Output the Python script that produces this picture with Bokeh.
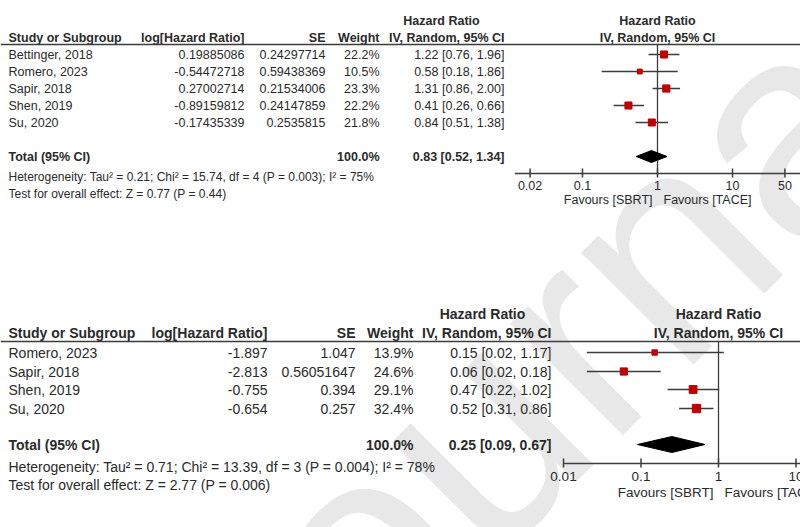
import math
from bokeh.plotting import figure
from bokeh.models import Range1d, LogScale
from bokeh.embed import file_html
from bokeh.resources import INLINE
from bokeh.core.properties import value

# ---------------- data: panel 1 ----------------
top_studies = ["Bettinger, 2018", "Romero, 2023", "Sapir, 2018", "Shen, 2019", "Su, 2020"]
top_loghr = ["0.19885086", "-0.54472718", "0.27002714", "-0.89159812", "-0.17435339"]
top_se = ["0.24297714", "0.59438369", "0.21534006", "0.24147859", "0.2535815"]
top_weight = [22.2, 10.5, 23.3, 22.2, 21.8]
top_hr = [1.22, 0.58, 1.31, 0.41, 0.84]
top_lo = [0.76, 0.18, 0.86, 0.26, 0.51]
top_hi = [1.96, 1.86, 2.00, 0.66, 1.38]
top_total = [0.83, 0.52, 1.34]
top_het = "Heterogeneity: Tau\u00b2 = 0.21; Chi\u00b2 = 15.74, df = 4 (P = 0.003); I\u00b2 = 75%"
top_test = "Test for overall effect: Z = 0.77 (P = 0.44)"
top_ticks = [0.02, 0.1, 1, 10, 50]
top_tick_labels = ["0.02", "0.1", "1", "10", "50"]

# ---------------- data: panel 2 ----------------
bot_studies = ["Romero, 2023", "Sapir, 2018", "Shen, 2019", "Su, 2020"]
bot_loghr = ["-1.897", "-2.813", "-0.755", "-0.654"]
bot_se = ["1.047", "0.56051647", "0.394", "0.257"]
bot_weight = [13.9, 24.6, 29.1, 32.4]
bot_hr = [0.15, 0.06, 0.47, 0.52]
bot_lo = [0.02, 0.02, 0.22, 0.31]
bot_hi = [1.17, 0.18, 1.02, 0.86]
bot_total = [0.25, 0.09, 0.67]
bot_het = "Heterogeneity: Tau\u00b2 = 0.71; Chi\u00b2 = 13.39, df = 3 (P = 0.004); I\u00b2 = 78%"
bot_test = "Test for overall effect: Z = 2.77 (P = 0.006)"
bot_ticks = [0.01, 0.1, 1, 10, 100]
bot_tick_labels = ["0.01", "0.1", "1", "10", "100"]

headers = ["Study or Subgroup", "log[Hazard Ratio]", "SE", "Weight", "Hazard Ratio", "IV, Random, 95% CI"]
favours = ["Favours [SBRT]", "Favours [TACE]"]
watermark = "Journal"

# ---------------- layout (page pixel coordinates) ----------------
W, H = 800, 527
X0, Y0 = 0, 0
FONT = value("Liberation Sans")
TXT = "#2a2a2a"
LINE = "#3c3c3c"
RED = "#c00000"

p = figure(width=W, height=H, output_backend="svg", toolbar_location=None,
           x_range=Range1d(X0, X0 + W), y_range=Range1d(Y0 + H, Y0),
           min_border=0, outline_line_color=None)
p.axis.visible = False
p.grid.visible = False
p.background_fill_color = "white"

# watermark
p.text(x=[540], y=[370], text=[watermark], angle=math.pi / 4,
       text_font=FONT, text_font_size="300px", text_color="#e8e8e8",
       text_align="center", text_baseline="middle")


def panel(name, L, studies, loghr, se, weight, hr, lo, hi, total, het, test, ticks, tick_labels):
    fs = f"{L['fs']}px"
    # log scale range mapped onto the frame
    rlo = 10 ** ((X0 - L['center']) / L['decade'])
    rhi = 10 ** ((X0 + W - L['center']) / L['decade'])
    p.extra_x_ranges[name] = Range1d(rlo, rhi)
    p.extra_x_scales[name] = LogScale()

    def txt(x, y, t, align, bold=False, size=fs, **kw):
        p.text(x=x, y=y, text=t, text_align=align, text_baseline="middle",
               text_font=FONT, text_font_size=size,
               text_font_style="bold" if bold else "normal", text_color=TXT, **kw)

    # headers
    txt([L['x_study']], [L['y_hdr']], [headers[0]], "left", True)
    txt([L['x_log']], [L['y_hdr']], [headers[1]], "right", True)
    txt([L['x_se']], [L['y_hdr']], [headers[2]], "right", True)
    txt([L['x_w']], [L['y_hdr']], [headers[3]], "right", True)
    txt([L['x_hrhdr']], [L['y_hr']], [headers[4]], "center", True)
    txt([L['x_ci']], [L['y_hdr']], [headers[5]], "right", True)
    txt([1], [L['y_hr']], [headers[4]], "center", True, x_range_name=name)
    txt([1], [L['y_hdr']], [headers[5]], "center", True, x_range_name=name)
    p.segment(x0=[X0], x1=[X0 + W], y0=[L['y_rule']], y1=[L['y_rule']],
              line_color=LINE, line_width=1.5)

    rows = L['rows']
    txt([L['x_study']] * len(rows), rows, studies, "left")
    txt([L['x_log']] * len(rows), rows, loghr, "right")
    txt([L['x_se']] * len(rows), rows, se, "right")
    txt([L['x_w']] * len(rows), rows, [f"{w:.1f}%" for w in weight], "right")
    txt([L['x_ci']] * len(rows), rows,
        [f"{a:.2f} [{b:.2f}, {c:.2f}]" for a, b, c in zip(hr, lo, hi)], "right")

    # total
    yt = L['y_total']
    txt([L['x_study']], [yt], ["Total (95% CI)"], "left", True)
    txt([L['x_w']], [yt], [f"{sum(weight):.1f}%"], "right", True)
    txt([L['x_ci']], [yt], [f"{total[0]:.2f} [{total[1]:.2f}, {total[2]:.2f}]"], "right", True)
    txt([L['x_study']], [L['y_het']], [het], "left", size=f"{L['fs_het']}px")
    txt([L['x_study']], [L['y_test']], [test], "left", size=f"{L['fs_het']}px")

    # forest: null line, axis, ticks
    p.segment(x0=[1], x1=[1], y0=[L['y_rule']], y1=[L['y_axis']],
              line_color=LINE, line_width=1.3, x_range_name=name)
    p.segment(x0=[L['axis_lo']], x1=[L['axis_hi']], y0=[L['y_axis']], y1=[L['y_axis']],
              line_color=LINE, line_width=1.5, x_range_name=name)
    p.segment(x0=ticks, x1=ticks, y0=[L['y_axis'] - 5] * len(ticks), y1=[L['y_axis'] + 4] * len(ticks),
              line_color=LINE, line_width=1.5, x_range_name=name)
    txt(ticks, [L['y_ticklab']] * len(ticks), tick_labels, "center", size=f"{L['fs_tick']}px",
        x_range_name=name)
    txt([1], [L['y_fav']], [favours[0]], "right", size=f"{L['fs_tick']}px", x_range_name=name, x_offset=-5)
    txt([1], [L['y_fav']], [favours[1]], "left", size=f"{L['fs_tick']}px", x_range_name=name, x_offset=6)

    # CIs and squares
    p.segment(x0=lo, x1=hi, y0=rows, y1=rows, line_color=LINE, line_width=1.4, x_range_name=name)
    p.scatter(x=hr, y=rows, marker="square", size=[L['k'] * math.sqrt(w) for w in weight],
              fill_color=RED, line_color=RED, x_range_name=name)
    # diamond
    h = L['diamond_h'] / 2
    p.patch(x=[total[1], total[0], total[2], total[0]], y=[yt, yt - h, yt, yt + h],
            fill_color="black", line_color="black", x_range_name=name)


top_L = dict(fs=12.5, fs_het=12, fs_tick=12.5, y_hr=20, y_hdr=37, y_rule=44, rows=[54, 71, 88, 105, 122],
             y_total=156, y_het=176, y_test=193, y_axis=173, y_ticklab=185, y_fav=199,
             x_study=8, x_log=244, x_se=325, x_w=379, x_ci=504, x_hrhdr=441,
             center=657, decade=75, axis_lo=0.0125, axis_hi=80, diamond_h=12, k=1.5)
bot_L = dict(fs=14, fs_het=14, fs_tick=13.5, y_hr=313, y_hdr=332, y_rule=341, rows=[352, 371, 389, 408],
             y_total=444, y_het=466, y_test=484, y_axis=463, y_ticklab=476, y_fav=492,
             x_study=8, x_log=267, x_se=355, x_w=413, x_ci=551, x_hrhdr=482,
             center=718, decade=77.5, axis_lo=0.01, axis_hi=100, diamond_h=16, k=1.45)

panel("top", top_L, top_studies, top_loghr, top_se, top_weight, top_hr, top_lo, top_hi,
      top_total, top_het, top_test, top_ticks, top_tick_labels)
panel("bot", bot_L, bot_studies, bot_loghr, bot_se, bot_weight, bot_hr, bot_lo, bot_hi,
      bot_total, bot_het, bot_test, bot_ticks, bot_tick_labels)

open("out.html", "w").write(file_html(p, INLINE))
